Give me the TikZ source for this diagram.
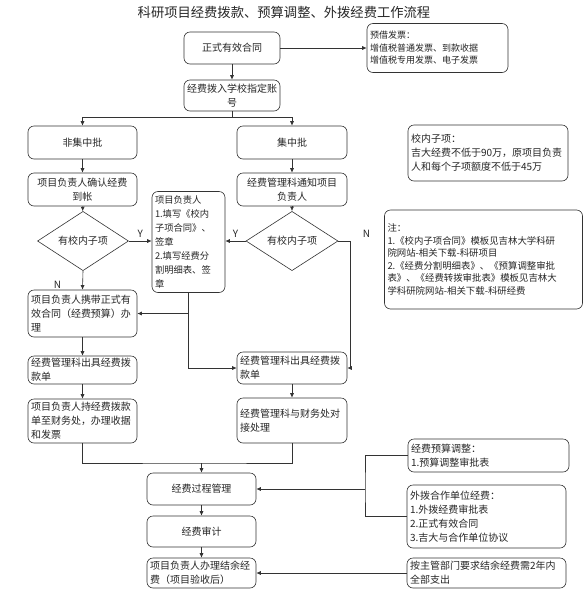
\documentclass[tikz,border=0pt]{standalone}
\usepackage{fontspec}
\setmainfont{Noto Sans CJK SC}
\usepackage{tikz}
\usetikzlibrary{arrows.meta,positioning,shapes.geometric}
\tikzset{
  box/.style={draw=black!80,line width=0.6pt,rounded corners=6pt,fill=white,
    inner xsep=3pt,inner ysep=2pt,align=center},
  lbox/.style={box,align=left},
  decision/.style={diamond,draw=black!80,line width=0.6pt,fill=white,inner sep=0pt},
  small/.style={font=\fontsize{9}{12.5}\selectfont},
  every node/.style={font=\fontsize{10}{14}\selectfont,text=black!85}
}
\tikzstyle{arrow} = [line width=0.6pt,draw=black!80,-{Latex[length=4.5pt,width=4pt]}]
\tikzstyle{line} = [line width=0.6pt,draw=black!80]

\begin{document}
\begin{tikzpicture}[x=1pt,y=-1pt]
  \useasboundingbox (0,0) rectangle (584,598);
  \node[font=\fontsize{13.3}{15}\selectfont] (title) at (284,12) {科研项目经费拨款、预算调整、外拨经费工作流程};

  % top
  \node[box,minimum width=96,minimum height=32] (contract) at (232,48) {正式有效合同};
  \node[lbox,small,text width=135,minimum height=49] (invoice) at (437.5,48) {预借发票：\\增值税普通发票、到款收据\\增值税专用发票、电子发票};
  \node[box,minimum width=94,minimum height=31] (account) at (232,95.5) {经费拨入学校指定账\\号};

  % two branches
  \node[box,minimum width=109,minimum height=33] (noncen) at (82.5,142.5) {非集中批};
  \node[box,minimum width=110,minimum height=33] (cen) at (292,142.5) {集中批};
  \node[box,minimum width=109,minimum height=33] (confirm) at (82.5,189.5) {项目负责人确认经费\\到帐};
  \node[box,minimum width=110,minimum height=33] (notify) at (292,189.5) {经费管理科通知项目\\负责人};
  \node[decision,minimum width=91,minimum height=39] (dL) at (83,241) {有校内子项};
  \node[decision,minimum width=92,minimum height=39] (dR) at (292,241) {有校内子项};
  \node[lbox,font=\fontsize{9.3}{14}\selectfont,text width=67,minimum height=101] (fill) at (188.5,242) {项目负责人\\1.填写《校内\\子项合同》、\\签章\\2.填写经费分\\割明细表、签\\章};

  \node[lbox,text width=103,minimum height=47] (carry) at (82.5,313.5) {项目负责人携带正式有\\效合同（经费预算）办\\理};
  \node[lbox,text width=103,minimum height=28] (issueL) at (82.5,370) {经费管理科出具经费拨\\款单};
  \node[lbox,text width=104,minimum height=32] (issueR) at (292,368) {经费管理科出具经费拨\\款单};
  \node[lbox,text width=103,minimum height=44] (handle) at (82.5,421) {项目负责人持经费拨款\\单至财务处，办理收据\\和发票};
  \node[lbox,text width=104,minimum height=45] (liaise) at (292,420.5) {经费管理科与财务处对\\接处理};

  % bottom
  \node[box,minimum width=109,minimum height=32] (process) at (201.5,489) {经费过程管理};
  \node[box,minimum width=109,minimum height=31] (audit) at (201.5,531.5) {经费审计};
  \node[lbox,text width=103,minimum height=30] (balance) at (201.5,573) {项目负责人办理结余经\\费（项目验收后）};
  \node[lbox,text width=155,minimum height=33] (budget) at (488.5,455.5) {经费预算调整：\\1.预算调整审批表};
  \node[lbox,text width=153,minimum height=63] (outsource) at (486.5,516.5) {外拨合作单位经费：\\1.外拨经费审批表\\2.正式有效合同\\3.吉大与合作单位协议};
  \node[lbox,text width=153,minimum height=30] (spend) at (486.5,573) {按主管部门要求结余经费需2年内\\全部支出};

  % notes
  \node[lbox,text width=154,minimum height=56] (subnote) at (488,153) {校内子项：\\吉大经费不低于90万，原项目负责\\人和每个子项额度不低于45万};
  \node[lbox,font=\fontsize{9.4}{12.5}\selectfont,text width=192,minimum height=99] (notes) at (483.5,259.5) {注：\\1.《校内子项合同》模板见吉林大学科研\\院网站-相关下载-科研项目\\2.《经费分割明细表》、《预算调整审批\\表》、《经费转拨审批表》模板见吉林大\\学科研院网站-相关下载-科研经费};

  \draw[arrow] (contract.east) -- (contract.east -| invoice.west);
  \draw[arrow] (contract) -- (account);
  \coordinate (split) at (232,117);
  \draw[line] (account.south) -- (split);
  \draw[arrow] (split) -| (noncen.north);
  \draw[arrow] (split) -| (cen.north);
  \draw[arrow] (noncen) -- (confirm);
  \draw[arrow] (cen) -- (notify);
  \draw[arrow] (confirm) -- (dL);
  \draw[arrow] (notify) -- (dR);
  \draw[arrow] (dL.east) -- node[above] {Y} (dL.east -| fill.west);
  \draw[arrow] (dR.west) -- node[above] {Y} (dR.west -| fill.east);
  \draw[arrow] (dL.south) -- node[near end,left=18pt] {N} (carry.north);
  \draw[arrow] (dR.east) -- ++(12,0) node[right=9pt,yshift=7pt] {N} |- (issueR.east);
  \draw[arrow] (fill.south) |- (carry.east);
  \draw[arrow] (fill.south) |- (issueR.west);
  \draw[arrow] (carry) -- (issueL);
  \draw[arrow] (issueL) -- (handle);
  \draw[arrow] (issueR) -- (liaise);
  \coordinate (merge) at (201.5,463);
  \draw[line] (handle.south) |- (merge) -| (liaise.south);
  \draw[arrow] (merge) -- (process);
  \draw[arrow] (process) -- (audit);
  \draw[arrow] (audit) -- (balance);
  \coordinate (bus) at (365,489);
  \draw[line] (budget.west) -| (bus) |- (outsource.west);
  \draw[arrow] (bus) -- (process.east);
  \draw[arrow] (spend.west) -- (balance.east);
\end{tikzpicture}
\end{document}
